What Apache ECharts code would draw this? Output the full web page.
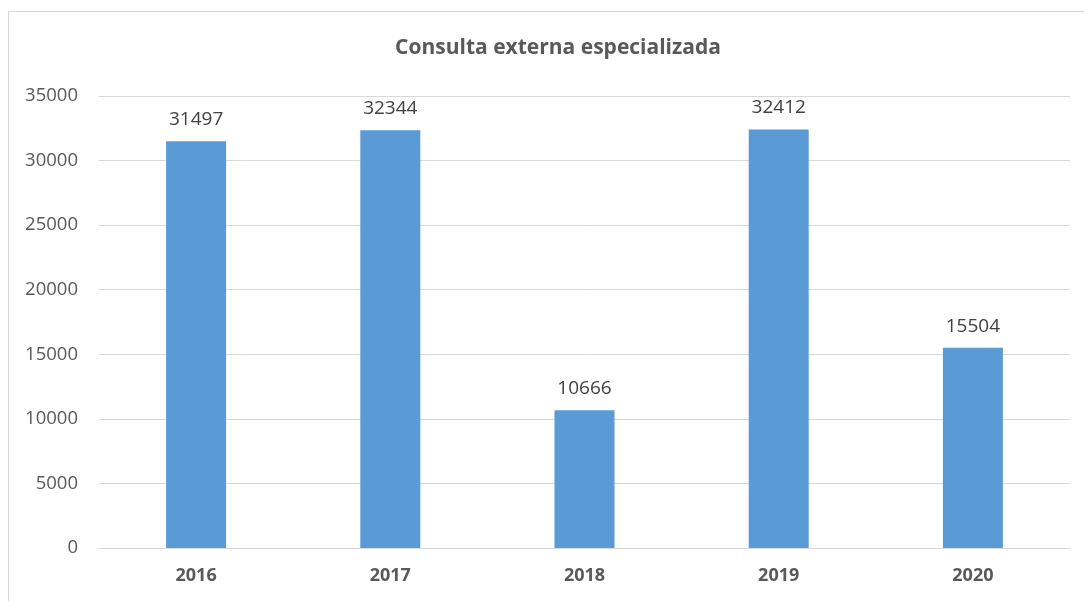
<!DOCTYPE html>
<html>
<head>
<meta charset="utf-8">
<script src="https://cdn.jsdelivr.net/npm/echarts@6/dist/echarts.min.js"></script>
<style>
html,body{margin:0;padding:0;background:#fff;}
#c{width:1084px;height:601px;}
</style>
</head>
<body>
<div id="c"></div>
<script>
const title = 'Consulta externa especializada';
const categories = ['2016', '2017', '2018', '2019', '2020'];
const values = [31497, 32344, 10666, 32412, 15504];
const yTicks = { min: 0, max: 35000, interval: 5000 };

const chart = echarts.init(document.getElementById('c'), null, { renderer: 'canvas' });
const font = '"Open Sans", "Liberation Sans", sans-serif';
chart.setOption({
  animation: false,
  backgroundColor: '#fff',
  title: {
    text: title,
    left: 553, top: 33, textAlign: 'center',
    textStyle: { fontFamily: font, fontSize: 21, fontWeight: 'bold', color: '#595959' }
  },
  graphic: [
    { type: 'line', shape: { x1: 8.5, y1: 11, x2: 8.5, y2: 601 }, style: { stroke: '#d9d9d9', lineWidth: 1 } },
    { type: 'line', shape: { x1: 8, y1: 11.5, x2: 1084, y2: 11.5 }, style: { stroke: '#d9d9d9', lineWidth: 1 } }
  ],
  grid: { left: 99, right: 14, top: 96, bottom: 53, containLabel: false },
  xAxis: {
    type: 'category',
    data: categories,
    axisLine: { show: true, lineStyle: { color: '#d9d9d9', width: 1 } },
    axisTick: { show: false },
    axisLabel: { margin: 19, fontFamily: font, fontSize: 18, fontWeight: 'bold', color: '#595959' }
  },
  yAxis: {
    type: 'value',
    min: yTicks.min, max: yTicks.max, interval: yTicks.interval,
    axisLine: { show: false },
    axisTick: { show: false },
    splitLine: { lineStyle: { color: '#d9d9d9', width: 1 } },
    axisLabel: { margin: 21, fontFamily: font, fontSize: 18.5, color: '#595959', formatter: v => String(v) }
  },
  series: [{
    type: 'bar',
    data: values,
    barWidth: 60,
    itemStyle: { color: '#5B9BD5' },
    label: {
      show: true, position: 'top', distance: 12,
      fontFamily: font, fontSize: 19, color: '#404040'
    }
  }]
});
</script>
</body>
</html>
